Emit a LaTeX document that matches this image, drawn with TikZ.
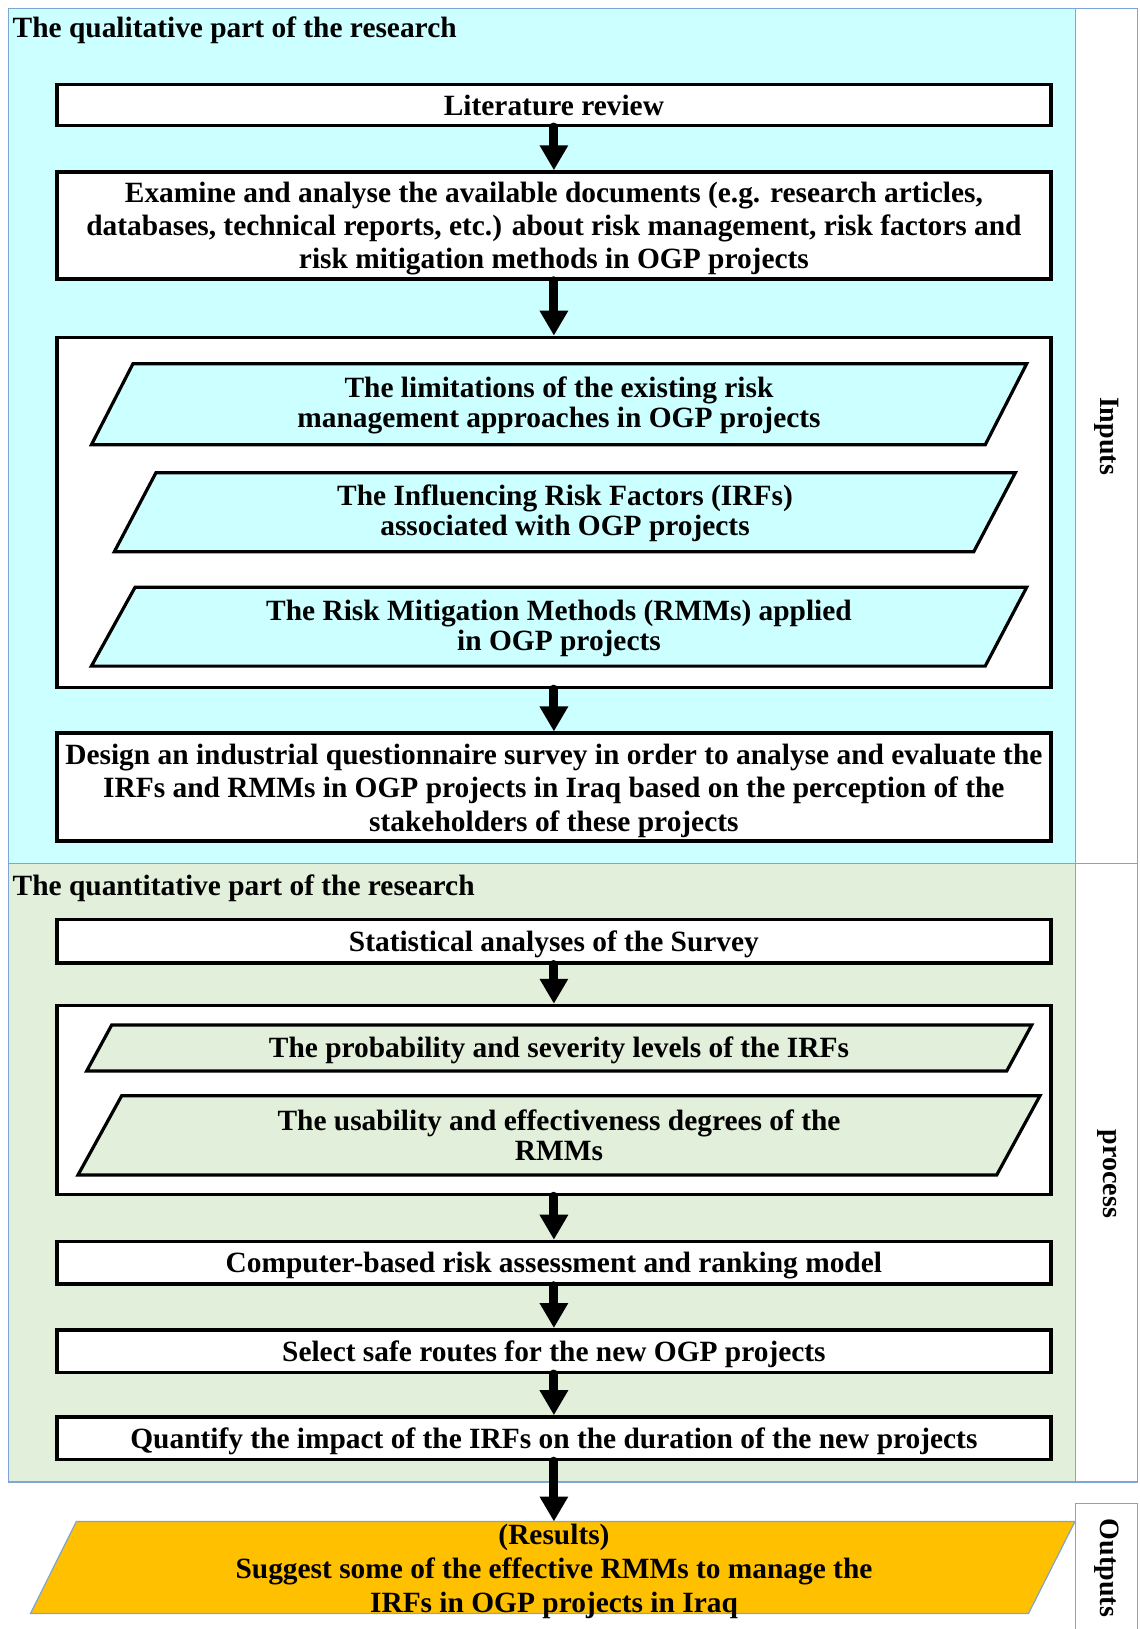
\documentclass[tikz,border=0pt]{standalone}
\usepackage{fontspec}
\setmainfont{Liberation Serif}
\usetikzlibrary{arrows.meta}

\definecolor{qualfill}{RGB}{204,255,255}
\definecolor{quantfill}{RGB}{226,239,218}
\definecolor{resfill}{RGB}{255,192,0}
\definecolor{panelline}{RGB}{125,165,215}

\newcommand\boxfont{\fontsize{29.4bp}{33.3bp}\selectfont\bfseries}
\newcommand\parafont{\fontsize{29.4bp}{30bp}\selectfont\bfseries}
\newcommand\resfont{\fontsize{29.4bp}{34bp}\selectfont\bfseries}

\tikzset{
  panel/.style={draw=panelline, line width=1.2bp},
  holder/.style={draw=black, line width=3.5bp, fill=white, minimum width=994bp, inner sep=0pt},
  boxtext/.style={inner sep=0pt, align=center, font=\boxfont},
  inpara/.style={draw=black, line width=3.2bp, line join=miter},
  paratext/.style={inner sep=0pt, align=center, font=\parafont},
  heading/.style={anchor=west, inner sep=0pt, font=\boxfont},
  sidelabel/.style={rotate=-90, inner sep=0pt, font=\fontsize{28bp}{30bp}\selectfont\bfseries},
  flow/.style={line width=9bp, line cap=round, -{Triangle[width=27bp,length=25bp]}},
}

\begin{document}
\begin{tikzpicture}[x=1bp, y=-1bp]
\useasboundingbox (0,0) rectangle (1139,1629);

% background panels and side columns
\filldraw[panel, fill=qualfill] (8.3,8.3) rectangle (1075.6,863.6);
\filldraw[panel, fill=white] (1075.6,8.3) rectangle (1137.4,863.6);
\filldraw[panel, fill=quantfill] (8.3,863.6) rectangle (1075.6,1482);
\filldraw[panel, fill=white] (1075.6,863.6) rectangle (1137.4,1482);
\draw[panel] (1075.6,1640) -- (1075.6,1503.5) -- (1137.4,1503.5) -- (1137.4,1640);

\node[sidelabel] (inputs) at (1107,436) {Inputs};
\node[sidelabel] (process) at (1107,1174) {process};
\node[sidelabel] (outputs) at (1107,1568) {Outputs};

% qualitative part
\node[heading] (qualtitle) at (12.5,30) {The qualitative part of the research};

\node[holder, minimum height=40.5bp] (lit) at (553.9,105) {};
\node[boxtext] (littext) at (553.9,105.2) {Literature review};

\node[holder, minimum height=107bp] (exam) at (553.9,225.5) {};
\node[boxtext] (examtext) at (553.9,228.6)
  {Examine and analyse the available documents (e.g. research articles,\\
   databases, technical reports, etc.) about risk management, risk factors and\\
   risk mitigation methods in OGP projects};

\node[holder, minimum height=350bp] (gapsbox) at (553.9,512.4) {};

\draw[inpara, fill=qualfill] (133,363.7) -- (1026.7,363.7) -- (985.2,444.8) -- (91.4,444.8) -- cycle;
\node[paratext] (limits) at (559,405.6)
  {The limitations of the existing risk\\management approaches in OGP projects};
\draw[inpara, fill=qualfill] (155.9,472.8) -- (1015.3,472.8) -- (973.7,551.8) -- (114.3,551.8) -- cycle;
\node[paratext] (irfs) at (565,513.6)
  {The Influencing Risk Factors (IRFs)\\associated with OGP projects};
\draw[inpara, fill=qualfill] (135.1,587.2) -- (1026.7,587.2) -- (985.2,666.1) -- (91.4,666.1) -- cycle;
\node[paratext] (rmms) at (559,628.6)
  {The Risk Mitigation Methods (RMMs) applied\\in OGP projects};

\node[holder, minimum height=108bp] (design) at (553.9,787.2) {};
\node[boxtext] (designtext) at (553.9,790.8)
  {Design an industrial questionnaire survey in order to analyse and evaluate the\\
   IRFs and RMMs in OGP projects in Iraq based on the perception of the\\
   stakeholders of these projects};

% quantitative part
\node[heading] (quanttitle) at (12.5,888.5) {The quantitative part of the research};

\node[holder, minimum height=43.5bp] (stat) at (553.9,941) {};
\node[boxtext] (stattext) at (553.9,944.1) {Statistical analyses of the Survey};

\node[holder, minimum height=189bp] (levelsbox) at (553.9,1100) {};

\draw[inpara, fill=quantfill] (111.7,1025) -- (1031.7,1025) -- (1006.7,1071) -- (86.7,1071) -- cycle;
\node[paratext] (levels) at (559,1050) {The probability and severity levels of the IRFs};
\draw[inpara, fill=quantfill] (121.7,1095.7) -- (1040,1095.7) -- (996.7,1175) -- (78,1175) -- cycle;
\node[paratext] (degrees) at (559,1135.5)
  {The usability and effectiveness degrees of the\\RMMs};

\node[holder, minimum height=42.5bp] (model) at (553.9,1262.7) {};
\node[boxtext] (modeltext) at (553.9,1265.8) {Computer-based risk assessment and ranking model};
\node[holder, minimum height=42.5bp] (routes) at (553.9,1351) {};
\node[boxtext] (routestext) at (553.9,1354.1) {Select safe routes for the new OGP projects};
\node[holder, minimum height=42.5bp] (quantify) at (553.9,1438.2) {};
\node[boxtext] (quantifytext) at (553.9,1441.3) {Quantify the impact of the IRFs on the duration of the new projects};

% results
\filldraw[draw=panelline, line width=1.2bp, fill=resfill]
  (76.3,1521.5) -- (1075,1521.5) -- (1028.5,1613.5) -- (30.5,1613.5) -- cycle;
\coordinate (restop) at (553.9,1521.5);
\node[inner sep=0pt, align=center, font=\resfont] (results) at (554,1571)
  {(Results)\\Suggest some of the effective RMMs to manage the\\IRFs in OGP projects in Iraq};

% connectors
\draw[flow] (lit.south) -- (exam.north);
\draw[flow] (exam.south) -- (gapsbox.north);
\draw[flow] (gapsbox.south) -- (design.north);
\draw[flow] (stat.south) -- (levelsbox.north);
\draw[flow] (levelsbox.south) -- (model.north);
\draw[flow] (model.south) -- (routes.north);
\draw[flow] (routes.south) -- (quantify.north);
\draw[flow] (quantify.south) -- (restop);
\end{tikzpicture}
\end{document}
